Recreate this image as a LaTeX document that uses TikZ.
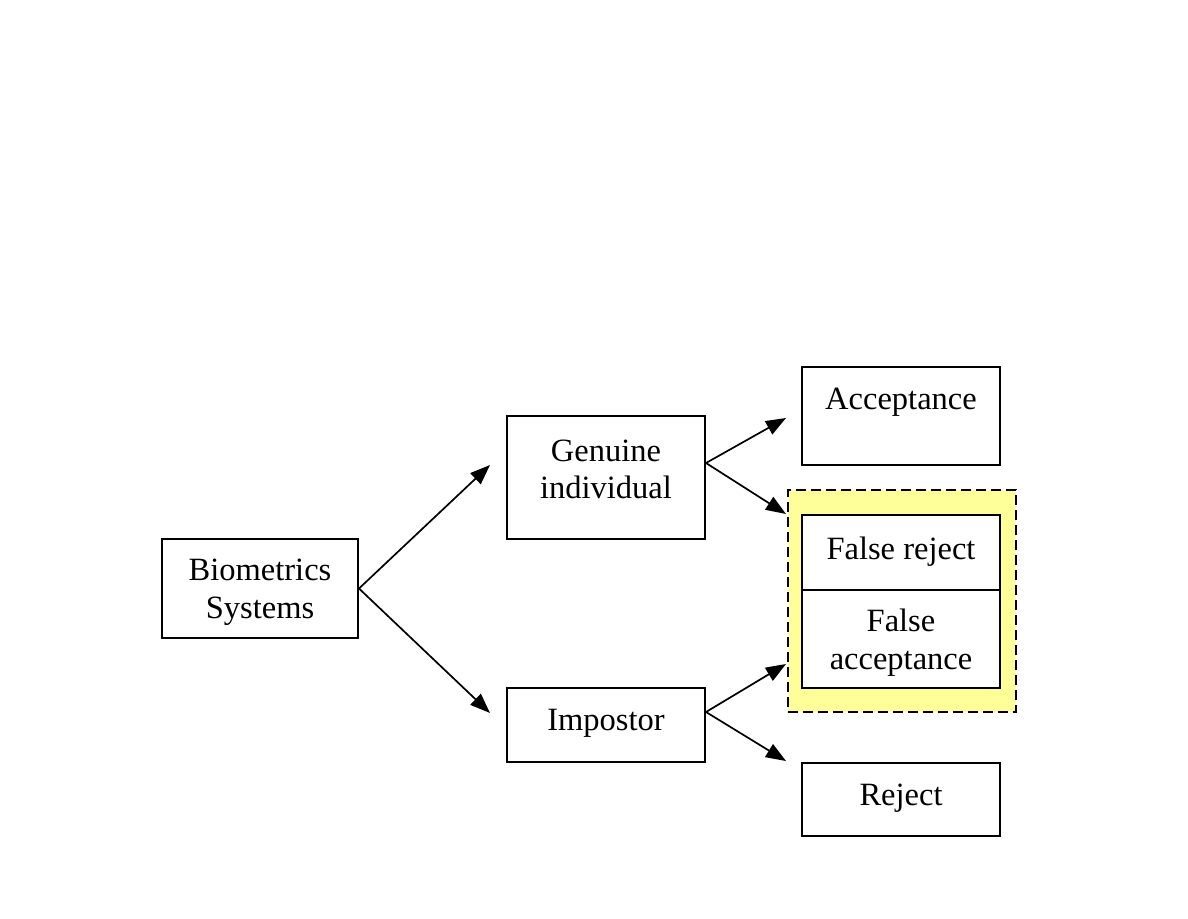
\documentclass[tikz,border=0pt]{standalone}
\usepackage{fontspec}
\setmainfont{Liberation Serif}
\usetikzlibrary{arrows.meta}
\definecolor{hl}{RGB}{255,255,153}
\begin{document}
\begin{tikzpicture}[x=1pt,y=-1pt,
 box/.style={draw, line width=2pt, inner sep=0pt, minimum width=198pt},
 txt/.style={font=\fontsize{32.5}{37.5}\selectfont, align=center, inner sep=0pt},
 arr/.style={line width=1.7pt, -{Triangle[length=20pt,width=15pt]}}]
\useasboundingbox (0,0) rectangle (1188,918);
% highlight frame
\node[draw, dashed, dash pattern=on 10pt off 5pt, line width=1.5pt, fill=hl, inner sep=0pt,
      minimum width=228pt, minimum height=222pt] (hlbox) at (902,601) {};
% boxes
\node[box, minimum width=196pt, minimum height=99pt] (bio) at (260,588.5) {};
\node[txt] (biot) at (260,592) {Biometrics\\Systems};
\node[box, minimum height=123pt] (gen) at (606,477.5) {};
\node[txt] (gent) at (606,469.5) {Genuine\\individual};
\node[box, minimum height=74pt] (imp) at (606,725) {};
\node[txt] (impt) at (606,723.5) {Impostor};
\node[box, minimum height=98pt] (acc) at (901,416) {};
\node[txt] (acct) at (901,402.5) {Acceptance};
\node[box, minimum height=75pt, fill=white] (fr) at (901,552.5) {};
\node[txt] (frt) at (901,551.5) {False reject};
\node[box, minimum height=98pt, fill=white] (fa) at (901,639) {};
\node[txt] (fat) at (901,642.5) {False\\acceptance};
\node[box, minimum height=73pt] (rej) at (901,799.5) {};
\node[txt] (rejt) at (901,798.5) {Reject};
% arrow ends
\coordinate (bg) at (490,465);
\coordinate (bi) at (490,713);
\coordinate (ga) at (786,418);
\coordinate (gf) at (786,514);
\coordinate (if) at (786,664);
\coordinate (ir) at (786,761);
\coordinate (gs) at ([yshift=14.5pt]gen.east);
\coordinate (is) at ([yshift=13pt]imp.east);
% connectors
\draw[arr] (bio.east) -- (bg);
\draw[arr] (bio.east) -- (bi);
\draw[arr] (gs) -- (ga);
\draw[arr] (gs) -- (gf);
\draw[arr] (is) -- (if);
\draw[arr] (is) -- (ir);
\end{tikzpicture}
\end{document}
